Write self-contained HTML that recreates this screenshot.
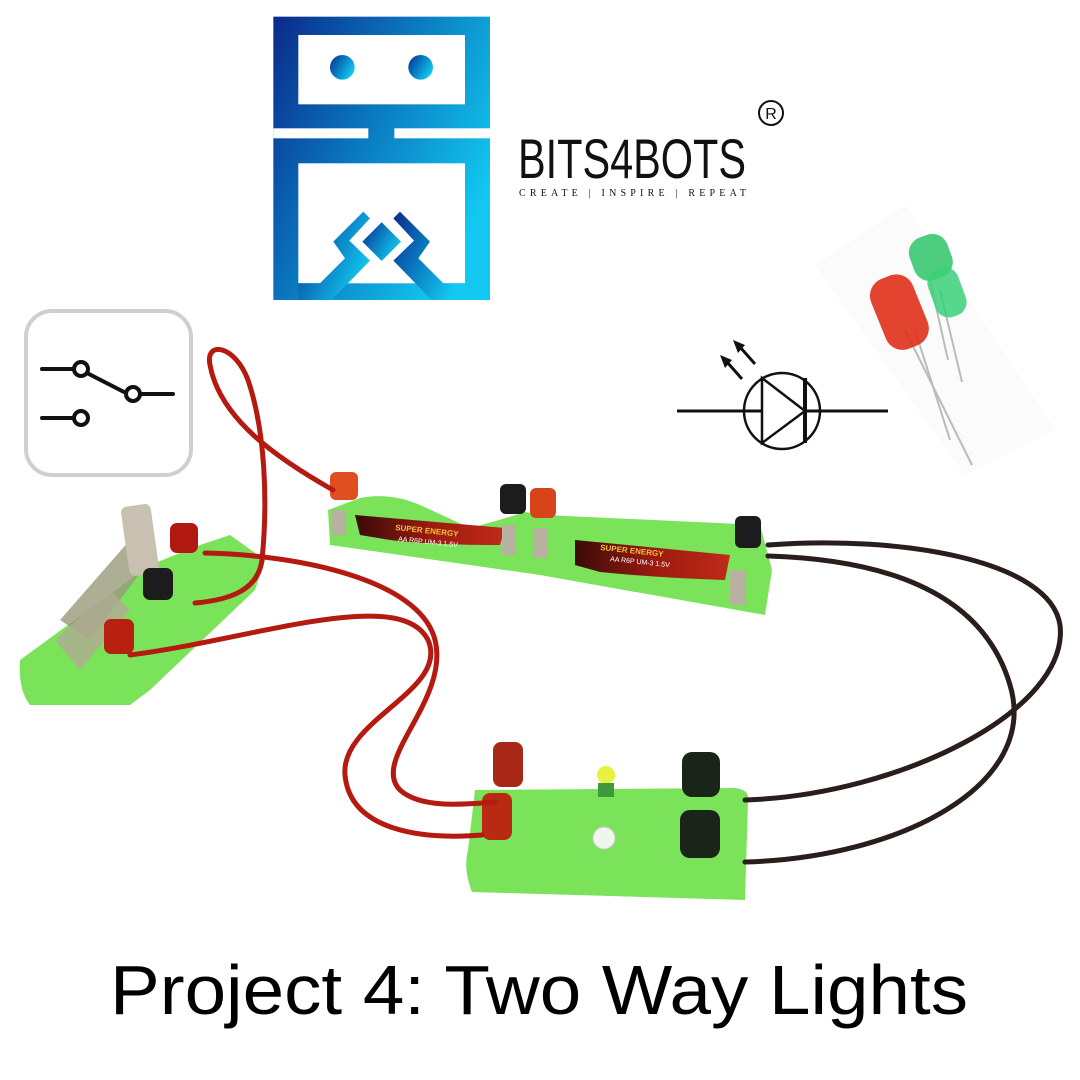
<!DOCTYPE html>
<html><head><meta charset="utf-8"><style>
html,body{margin:0;padding:0;background:#fff;}
svg{display:block;}
</style></head><body>
<svg width="1080" height="1080" viewBox="0 0 1080 1080" xmlns="http://www.w3.org/2000/svg">
<defs>
<linearGradient id="lg" x1="0" y1="0" x2="1" y2="0.6">
<stop offset="0" stop-color="#0a2a8a"/><stop offset="0.5" stop-color="#0a7ac0"/><stop offset="1" stop-color="#12c8f0"/>
</linearGradient>
<linearGradient id="bat" x1="0" y1="0" x2="1" y2="0"><stop offset="0" stop-color="#3a0a08"/><stop offset="0.5" stop-color="#9a1a10"/><stop offset="1" stop-color="#c02a18"/></linearGradient>
</defs>
<rect width="1080" height="1080" fill="#fff"/>

<!-- Logo -->
<g transform="translate(270,10) scale(0.3333)">
<rect x="10" y="20" width="650" height="850" fill="url(#lg)"/>
<rect x="85" y="75" width="500" height="208" fill="#fff"/>
<circle cx="217" cy="172" r="37" fill="url(#lg)"/>
<circle cx="452" cy="172" r="37" fill="url(#lg)"/>
<rect x="10" y="355" width="285" height="30" fill="#fff"/>
<rect x="373" y="355" width="287" height="30" fill="#fff"/>
<rect x="85" y="460" width="500" height="360" fill="#fff"/>
<polygon points="85,820 150,820 225,745 190,695 280,605 300,625 238,692 300,752 185,870 85,870" fill="url(#lg)"/>
<polygon points="585,820 520,820 445,745 480,695 390,605 370,625 432,692 370,752 485,870 585,870" fill="url(#lg)"/>
<polygon points="335,637 393,695 335,753 277,695" fill="url(#lg)"/>
</g>
<text x="518" y="178" font-family="Liberation Sans Narrow, Liberation Sans, sans-serif" font-size="56" fill="#111" textLength="228" lengthAdjust="spacingAndGlyphs">BITS4BOTS</text>
<circle cx="771" cy="113" r="12" fill="none" stroke="#111" stroke-width="2"/>
<text x="771" y="119" text-anchor="middle" font-family="Liberation Sans, sans-serif" font-size="16" fill="#111">R</text>
<text x="519" y="196" font-family="Liberation Serif, serif" font-size="10" fill="#111" textLength="227" lengthAdjust="spacing">CREATE | INSPIRE | REPEAT</text>

<!-- Switch icon -->
<rect x="26" y="311" width="165" height="164" rx="26" fill="#fff" stroke="#cfcfcf" stroke-width="4"/>
<g stroke="#111" stroke-width="4" fill="none" stroke-linecap="round">
<line x1="42" y1="369" x2="75" y2="369"/>
<line x1="87" y1="373" x2="124" y2="392"/>
<line x1="141" y1="394" x2="173" y2="394"/>
<line x1="42" y1="418" x2="74" y2="418"/>
<circle cx="81" cy="369" r="7" fill="#fff"/>
<circle cx="133" cy="394" r="7" fill="#fff"/>
<circle cx="81" cy="418" r="7" fill="#fff"/>
</g>

<!-- LED symbol -->
<g stroke="#111" stroke-width="3" fill="none">
<line x1="677" y1="411" x2="762" y2="411"/>
<line x1="805" y1="411" x2="888" y2="411"/>
<circle cx="782" cy="411" r="38" stroke-width="2.5"/>
<polygon points="762,378 762,443 805,411" stroke-width="2.5"/>
<line x1="805" y1="378" x2="805" y2="443" stroke-width="4"/>
<line x1="742" y1="379" x2="727" y2="362"/>
<line x1="755" y1="364" x2="740" y2="347"/>
</g>
<polygon points="720,355 732,360 725,368" fill="#111"/>
<polygon points="733,340 745,345 738,353" fill="#111"/>

<!-- LEDs photo -->
<polygon points="815,265 905,205 1055,430 965,475" fill="#fbfbfb"/>
<g stroke="#bbb" stroke-width="2">
<line x1="905" y1="330" x2="972" y2="465"/>
<line x1="915" y1="330" x2="950" y2="440"/>
<line x1="930" y1="280" x2="948" y2="360"/>
<line x1="940" y1="290" x2="962" y2="382"/>
</g>
<g transform="rotate(-20 930 255)"><rect x="910" y="235" width="40" height="45" rx="16" fill="#2ec46a" opacity="0.85"/></g>
<g transform="rotate(-20 945 290)"><rect x="930" y="268" width="32" height="50" rx="14" fill="#3ad078" opacity="0.85"/></g>
<g transform="rotate(-22 898 310)"><rect x="876" y="275" width="45" height="75" rx="18" fill="#e0301a" opacity="0.9"/></g>

<!-- Battery holder -->
<path d="M328,510 L360,498 Q390,492 420,505 L470,528 Q500,520 525,512 L545,515 L760,525 L772,570 L765,615 L540,575 L330,545 Z" fill="#7be35a"/>
<path d="M355,515 L505,528 L500,545 Q430,545 390,540 L360,535 Z" fill="url(#bat)"/>
<path d="M575,540 L730,555 L725,580 Q660,578 600,572 L575,565 Z" fill="url(#bat)"/>
<text x="395" y="530" font-family="Liberation Sans, sans-serif" font-size="8" font-weight="bold" fill="#f6c23a" transform="rotate(6 395 530)">SUPER ENERGY</text>
<text x="398" y="541" font-family="Liberation Sans, sans-serif" font-size="7" fill="#fff" transform="rotate(6 398 541)">AA R6P UM-3 1.5V</text>
<text x="600" y="550" font-family="Liberation Sans, sans-serif" font-size="8" font-weight="bold" fill="#f6c23a" transform="rotate(6 600 550)">SUPER ENERGY</text>
<text x="610" y="561" font-family="Liberation Sans, sans-serif" font-size="7" fill="#fff" transform="rotate(6 610 561)">AA R6P UM-3 1.5V</text>
<rect x="332" y="510" width="14" height="25" fill="#b8b0a0"/>
<rect x="502" y="525" width="14" height="30" fill="#b8b0a0"/>
<rect x="533" y="528" width="14" height="30" fill="#b8b0a0"/>
<rect x="730" y="570" width="16" height="35" fill="#b8b0a0"/>
<rect x="330" y="472" width="28" height="28" rx="6" fill="#e0501e"/>
<rect x="500" y="484" width="26" height="30" rx="6" fill="#1c1c1c"/>
<rect x="530" y="488" width="26" height="30" rx="6" fill="#d8441a"/>
<rect x="735" y="516" width="26" height="32" rx="6" fill="#1c1c1c"/>

<!-- Switch base -->
<path d="M20,660 L150,565 L200,545 L230,535 L265,560 L255,590 L150,690 L130,705 L30,705 Q18,690 20,660 Z" fill="#7be35a"/>
<path d="M60,620 L130,540 L150,560 L90,640 Z" fill="#9a9a7a" opacity="0.8"/>
<path d="M55,640 L110,590 L130,610 L80,670 Z" fill="#b3aa95" opacity="0.8"/>
<rect x="125" y="505" width="30" height="70" rx="6" fill="#c8c0b0" transform="rotate(-8 140 540)"/>
<rect x="170" y="523" width="28" height="30" rx="7" fill="#b01810"/>
<rect x="143" y="568" width="30" height="32" rx="7" fill="#1c1c1c"/>
<rect x="104" y="619" width="30" height="35" rx="7" fill="#b82010"/>

<!-- LED board -->
<path d="M475,790 L735,788 Q750,790 748,800 L745,900 L472,892 Q463,870 468,850 Z" fill="#7be35a"/>
<rect x="493" y="742" width="30" height="45" rx="8" fill="#a82818"/>
<rect x="482" y="793" width="30" height="47" rx="8" fill="#b82a14"/>
<rect x="682" y="752" width="38" height="45" rx="10" fill="#1a2418"/>
<rect x="680" y="810" width="40" height="48" rx="10" fill="#1a2418"/>
<circle cx="606" cy="775" r="9" fill="#e8f040"/>
<rect x="598" y="783" width="16" height="14" fill="#3c9a3c"/>
<circle cx="604" cy="838" r="11" fill="#eef6ee" stroke="#ccd" stroke-width="1"/>

<!-- Wires -->
<g fill="none" stroke-linecap="round">
<path d="M333,490 C280,460 220,420 210,365 C205,340 235,345 248,380 C265,430 268,500 262,560 C258,590 230,600 195,603" stroke="#b41a10" stroke-width="5"/>
<path d="M205,553 C300,555 420,580 435,640 C450,700 370,760 400,790 C420,808 460,805 495,802" stroke="#b41a10" stroke-width="5"/>
<path d="M130,655 C250,640 400,585 428,640 C450,690 340,720 345,775 C350,830 420,840 482,835" stroke="#b41a10" stroke-width="5"/>
<path d="M768,545 C900,535 1050,560 1060,625 C1070,710 900,795 745,800" stroke="#2a1e1c" stroke-width="5"/>
<path d="M768,556 C900,560 985,600 1010,685 C1040,785 900,858 745,862" stroke="#2a1e1c" stroke-width="5"/>
</g>

<!-- Title -->
<text x="110" y="1014" font-family="Liberation Sans, sans-serif" font-size="70" fill="#000" textLength="858" lengthAdjust="spacingAndGlyphs">Project 4: Two Way Lights</text>
</svg>
</body></html>
